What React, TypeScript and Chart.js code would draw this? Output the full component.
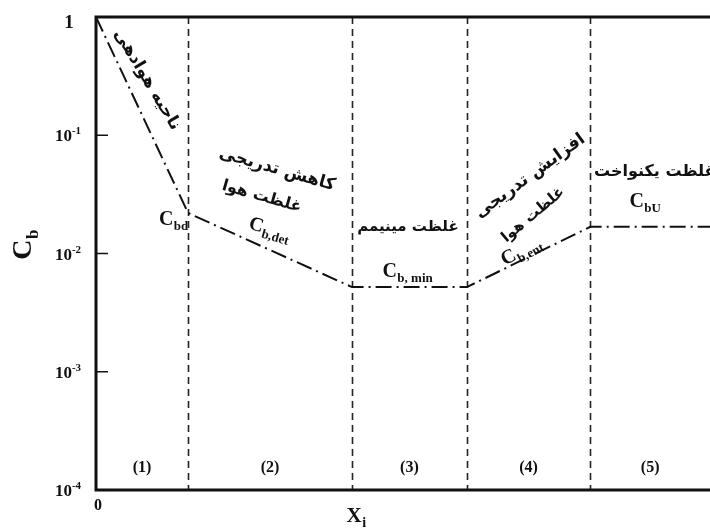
import React, { useEffect, useRef } from "react";
import { Chart, registerables } from "chart.js";

Chart.register(...registerables);

// ---- data ----
const xPoints = [0, 15, 41.7, 60.4, 80.5, 100];
const cbValues = [1, 0.022, 0.0052, 0.0052, 0.0168, 0.0168];
const regionBoundaries = [15, 41.7, 60.4, 80.5];
const regionLabels = ["(1)", "(2)", "(3)", "(4)", "(5)"];
const yTickValues = [1, 0.1, 0.01, 0.001, 0.0001];
const yTickExponents = ["", "-1", "-2", "-3", "-4"];
const xTickValues = [0];
const xTickLabels = ["0"];

// annotations: x in axis units, e = log10 of Cb, angle in degrees
const persianNotes = [
  { text: "ناحیه هوادهی", x: 8.3, e: -0.53, angle: 59, size: 17 },
  { text: "کاهش تدریجی", x: 29.5, e: -1.29, angle: 16, size: 17 },
  { text: "غلظت هوا", x: 27.0, e: -1.52, angle: 16, size: 16 },
  { text: "غلظت مینیمم", x: 50.8, e: -1.776, angle: 0, size: 15 },
  { text: "افزایش تدریجی", x: 70.7, e: -1.345, angle: -36, size: 17 },
  { text: "غلظت هوا", x: 71.2, e: -1.674, angle: -40, size: 15 },
  { text: "غلظت یکنواخت", x: 91.0, e: -1.311, angle: 0, size: 16 },
];
const cNotes = [
  { main: "C", sub: "bd", x: 12.6, e: -1.7, angle: 0 },
  { main: "C", sub: "b,det", x: 28.3, e: -1.784, angle: 16 },
  { main: "C", sub: "b, min", x: 50.7, e: -2.14, angle: 0 },
  { main: "C", sub: "b,ent", x: 69.1, e: -1.97, angle: -28 },
  { main: "C", sub: "bU", x: 89.4, e: -1.548, angle: 0 },
];

const SERIF = '"Liberation Serif", "DejaVu Serif", serif';
const ARABIC = '"DejaVu Sans", "Noto Sans", sans-serif';

function drawCSub(
  ctx: CanvasRenderingContext2D,
  main: string,
  sub: string,
  cx: number,
  cy: number,
  angle: number,
  mainSize: number,
  subSize: number
) {
  ctx.save();
  ctx.translate(cx, cy);
  ctx.rotate((angle * Math.PI) / 180);
  const mf = `bold ${mainSize}px ${SERIF}`;
  const sf = `bold ${subSize}px ${SERIF}`;
  ctx.font = mf;
  const w1 = ctx.measureText(main).width;
  ctx.font = sf;
  const w2 = ctx.measureText(sub).width;
  const start = -(w1 + w2) / 2;
  ctx.textAlign = "left";
  ctx.textBaseline = "alphabetic";
  ctx.fillStyle = "#111";
  ctx.font = mf;
  ctx.fillText(main, start, mainSize * 0.33);
  ctx.font = sf;
  ctx.fillText(sub, start + w1 + 0.5, mainSize * 0.33 + subSize * 0.38);
  ctx.restore();
}

const decorPlugin = {
  id: "decor",
  beforeDatasetsDraw(chart: any) {
    const { ctx, chartArea } = chart;
    const xs = chart.scales.x;
    ctx.save();
    ctx.strokeStyle = "#222";
    ctx.lineWidth = 1.6;
    ctx.setLineDash([7, 5]);
    for (const b of regionBoundaries) {
      const px = Math.round(xs.getPixelForValue(b)) + 0.5;
      ctx.beginPath();
      ctx.moveTo(px, chartArea.top);
      ctx.lineTo(px, chartArea.bottom);
      ctx.stroke();
    }
    ctx.restore();
  },
  afterDraw(chart: any) {
    const { ctx, chartArea } = chart;
    const xs = chart.scales.x;
    const ys = chart.scales.y;
    const { left, right, top, bottom } = chartArea;
    ctx.save();
    // frame
    ctx.setLineDash([]);
    ctx.strokeStyle = "#111";
    ctx.lineWidth = 3;
    ctx.beginPath();
    ctx.moveTo(right + 5, top);
    ctx.lineTo(left, top);
    ctx.lineTo(left, bottom);
    ctx.lineTo(right + 5, bottom);
    ctx.stroke();
    // inward y ticks + labels
    ctx.lineWidth = 1.5;
    yTickValues.forEach((v, i) => {
      const py = ys.getPixelForValue(v);
      ctx.beginPath();
      ctx.moveTo(left, py);
      ctx.lineTo(left + 12, py);
      ctx.stroke();
      ctx.fillStyle = "#111";
      ctx.textBaseline = "alphabetic";
      ctx.textAlign = "left";
      const exp = yTickExponents[i];
      if (!exp) {
        ctx.font = `bold 19px ${SERIF}`;
        const w = ctx.measureText("1").width;
        ctx.fillText("1", 69 - w / 2, py + 11);
      } else {
        ctx.font = `bold 17px ${SERIF}`;
        const w1 = ctx.measureText("10").width;
        ctx.font = `bold 11px ${SERIF}`;
        const w2 = ctx.measureText(exp).width;
        const sx = 68 - (w1 + w2) / 2;
        ctx.font = `bold 17px ${SERIF}`;
        ctx.fillText("10", sx, py + 6);
        ctx.font = `bold 11px ${SERIF}`;
        ctx.fillText(exp, sx + w1, py - 1);
      }
    });
    // x tick label
    xTickValues.forEach((v, i) => {
      const px = xs.getPixelForValue(v);
      ctx.font = `bold 16px ${SERIF}`;
      ctx.textAlign = "left";
      ctx.fillText(xTickLabels[i], px - 2, bottom + 20);
    });
    // region labels
    const edges = [xs.min, ...regionBoundaries, xs.max];
    regionLabels.forEach((lab, i) => {
      const cx = (xs.getPixelForValue(edges[i]) + xs.getPixelForValue(edges[i + 1])) / 2;
      ctx.font = `bold 16px ${SERIF}`;
      ctx.textAlign = "center";
      ctx.textBaseline = "middle";
      ctx.fillText(lab, cx, bottom - 22);
    });
    // persian notes
    for (const n of persianNotes) {
      const px = xs.getPixelForValue(n.x);
      const py = ys.getPixelForValue(Math.pow(10, n.e));
      ctx.save();
      ctx.translate(px, py);
      ctx.rotate((n.angle * Math.PI) / 180);
      ctx.font = `bold ${n.size}px ${ARABIC}`;
      ctx.direction = "rtl";
      ctx.textAlign = "center";
      ctx.textBaseline = "middle";
      ctx.fillStyle = "#111";
      ctx.fillText(n.text, 0, 0);
      ctx.restore();
    }
    // C labels
    for (const n of cNotes) {
      const px = xs.getPixelForValue(n.x);
      const py = ys.getPixelForValue(Math.pow(10, n.e));
      drawCSub(ctx, n.main, n.sub, px, py, n.angle, 20, 13);
    }
    // axis titles
    drawCSub(ctx, "C", "b", 22, 245, -90, 28, 17);
    drawCSub(ctx, "X", "i", 356, 515, 0, 21, 14);
    ctx.restore();
  },
};

export default function App() {
  const ref = useRef<HTMLCanvasElement | null>(null);
  useEffect(() => {
    if (!ref.current) return;
    const chart = new Chart(ref.current, {
      type: "line",
      data: {
        datasets: [
          {
            data: xPoints.map((x, i) => ({ x, y: cbValues[i] })),
            borderColor: "#111",
            borderWidth: 2,
            borderDash: [16, 5, 2, 5],
            pointRadius: 0,
            tension: 0,
            fill: false,
          },
        ],
      },
      options: {
        animation: false,
        responsive: false,
        layout: { padding: { left: 96, top: 17, right: 0, bottom: 40 } },
        plugins: { legend: { display: false }, tooltip: { enabled: false } },
        scales: {
          x: { type: "linear", min: 0, max: 100, display: false },
          y: { type: "logarithmic", min: 0.0001, max: 1, display: false },
        },
      },
      plugins: [decorPlugin],
    } as any);
    return () => chart.destroy();
  }, []);
  return (
    <div style={{ position: "absolute", left: 0, top: 0, width: 710, height: 530, background: "#fff" }}>
      <canvas ref={ref} width={710} height={530} style={{ display: "block" }} />
    </div>
  );
}
